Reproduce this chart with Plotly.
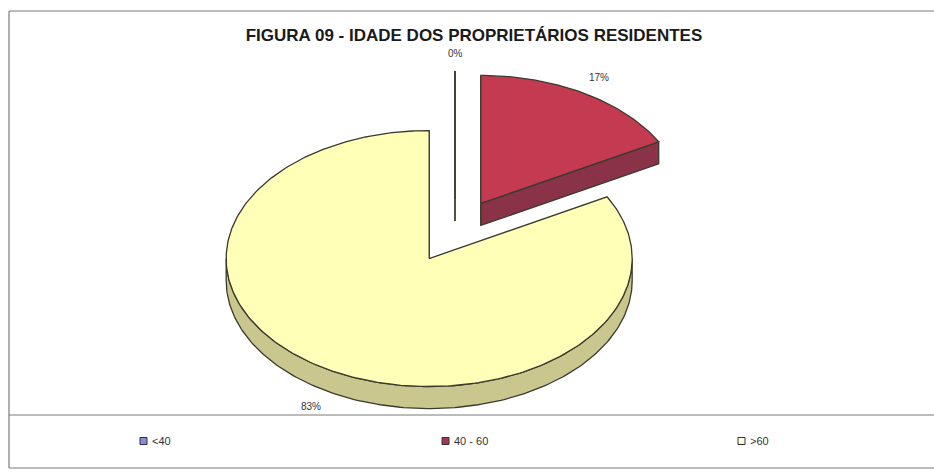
import numpy as np
import plotly.graph_objects as go

# Age groups of resident owners and their shares (%)
categories = ["<40", "40 - 60", ">60"]
shares = [0, 17, 83]

top_colors = ["#9999FF", "#C43B51", "#FFFFB8"]
side_colors = ["#6E6EC4", "#8A3248", "#C9C68E"]
legend_colors = ["#8C8CDC", "#A4385A", "#FFFFE6"]

TITLE = "FIGURA 09 - IDADE DOS PROPRIETÁRIOS RESIDENTES"

W, H = 934, 473
CX, CY = 455, 231        # pie centre (pixel space)
RX, RY = 203, 128        # ellipse semi-axes of the tilted pie
DEPTH = 22               # thickness of the 3D pie
EXPLODE = 0.25           # explosion as a fraction of the radius
EDGE = "#3a3a2e"
LABEL_K = 1.14

# legend key positions (left edge of each key, pixels) and row height
LEGEND_X = [140, 442, 738]
LEGEND_Y = 441


def rim(cx, cy, t, dz=0.0):
    t = np.asarray(t, dtype=float)
    return cx + RX * np.cos(t), cy - RY * np.sin(t) + dz


def poly_trace(xs, ys, fill, name):
    return go.Scatter(
        x=list(xs), y=list(ys), mode="lines", fill="toself", name=name,
        fillcolor=fill, line=dict(color=EDGE, width=1.3),
        hoverinfo="skip", showlegend=False,
    )


total = float(sum(shares))
slices = []
start = np.pi / 2
for name, v, tc, sc in zip(categories, shares, top_colors, side_colors):
    sweep = 2 * np.pi * v / total
    t0, t1 = start, start - sweep          # clockwise from 12 o'clock
    mid = (t0 + t1) / 2
    cx = CX + EXPLODE * RX * np.cos(mid)
    cy = CY - EXPLODE * RY * np.sin(mid)
    slices.append(dict(name=name, v=v, t0=t0, t1=t1, mid=mid,
                       cx=cx, cy=cy, top=tc, side=sc))
    start = t1

fig = go.Figure()

# paint from back to front
for s in sorted(slices, key=lambda d: -np.sin(d["mid"])):
    cx, cy, t0, t1 = s["cx"], s["cy"], s["t0"], s["t1"]
    # radial cut faces that face the viewer
    for t, vis in ((t0, np.cos(t0) <= 1e-9), (t1, np.cos(t1) >= -1e-9)):
        if vis:
            ex, ey = rim(cx, cy, t)
            fig.add_trace(poly_trace([cx, ex, ex, cx, cx],
                                     [cy, ey, ey + DEPTH, cy + DEPTH, cy],
                                     s["side"], s["name"]))
    # front part of the outer wall
    for k in range(-3, 2):
        a = max(t1, -np.pi + 2 * np.pi * k)
        b = min(t0, 2 * np.pi * k)
        if b - a > 1e-6:
            ts = np.linspace(b, a, max(int((b - a) * 60), 4))
            ux, uy = rim(cx, cy, ts)
            lx, ly = rim(cx, cy, ts[::-1], DEPTH)
            fig.add_trace(poly_trace(np.r_[ux, lx, ux[:1]],
                                     np.r_[uy, ly, uy[:1]], s["side"], s["name"]))
    # top face
    n = max(int((t0 - t1) * 60), 2)
    ts = np.linspace(t0, t1, n)
    ax, ay = rim(cx, cy, ts)
    fig.add_trace(poly_trace(np.r_[cx, ax, cx], np.r_[cy, ay, cy],
                             s["top"], s["name"]))

# percentage labels outside each slice
for s in slices:
    lx = s["cx"] + LABEL_K * RX * np.cos(s["mid"])
    ly = s["cy"] - LABEL_K * RY * np.sin(s["mid"])
    if np.sin(s["mid"]) < 0:
        ly += DEPTH
    fig.add_annotation(x=lx, y=ly, text=f"{s['v']:.0f}%", showarrow=False,
                       font=dict(family="Liberation Sans", size=10, color="#333333"),
                       xanchor="center", yanchor="middle")

# legend: small square keys with the category names
for name, c, kx in zip(categories, legend_colors, LEGEND_X):
    fig.add_shape(type="rect", xref="paper", yref="paper",
                  x0=kx / W, x1=(kx + 7) / W,
                  y0=1 - (LEGEND_Y + 3.5) / H, y1=1 - (LEGEND_Y - 3.5) / H,
                  fillcolor=c, line=dict(color="#333333", width=1))
    fig.add_annotation(xref="paper", yref="paper", x=(kx + 10) / W,
                       y=1 - LEGEND_Y / H, text=name, showarrow=False,
                       xanchor="left", yanchor="middle",
                       font=dict(family="Liberation Sans", size=11, color="#333333"))

# chart frame
frame = dict(type="line", xref="paper", yref="paper",
             line=dict(color="#7a7a7a", width=1.2))
fig.add_shape(**frame, x0=9 / W, x1=1, y0=1 - 11 / H, y1=1 - 11 / H)
fig.add_shape(**frame, x0=9 / W, x1=9 / W, y0=1 - 11 / H, y1=1 - 468 / H)
fig.add_shape(**frame, x0=9 / W, x1=1, y0=1 - 415 / H, y1=1 - 415 / H)
fig.add_shape(**frame, x0=9 / W, x1=1, y0=1 - 468 / H, y1=1 - 468 / H)

fig.update_layout(
    width=W, height=H,
    margin=dict(l=0, r=0, t=0, b=0),
    paper_bgcolor="white", plot_bgcolor="white",
    title=dict(text=f"<b>{TITLE}</b>", x=474 / W, y=1 - 35 / H,
               xanchor="center", yanchor="middle",
               font=dict(family="Liberation Sans", size=17, color="#1a1a1a")),
    xaxis=dict(range=[0, W], visible=False, fixedrange=True),
    yaxis=dict(range=[H, 0], visible=False, fixedrange=True),
    showlegend=False,
)

fig.write_html("out.html")
